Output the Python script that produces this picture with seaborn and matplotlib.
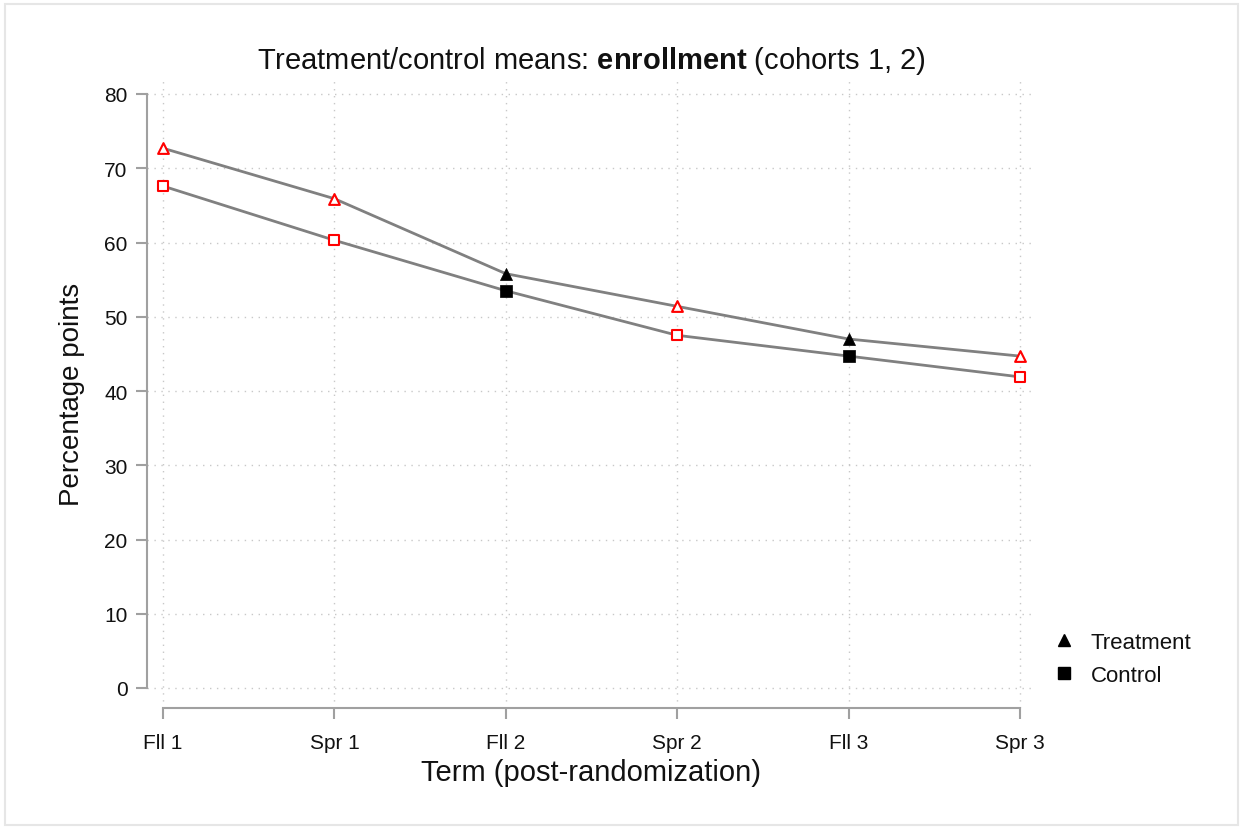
import numpy as np
import pandas as pd
import seaborn as sb
import matplotlib
import matplotlib.pyplot as plt
from matplotlib.lines import Line2D
matplotlib.use('Agg')

terms = ["Fll 1", "Spr 1", "Fll 2", "Spr 2", "Fll 3", "Spr 3"]
treatment = [72.7, 65.9, 55.8, 51.4, 47.0, 44.7]
control = [67.6, 60.3, 53.5, 47.5, 44.7, 41.9]
# terms where the difference is flagged (red hollow markers)
flagged = [True, True, False, True, False, True]

sb.set_style("white")
plt.rcParams['font.family'] = ['Liberation Sans', 'DejaVu Sans']
plt.rcParams['mathtext.fontset'] = 'custom'
plt.rcParams['mathtext.rm'] = 'Liberation Sans'
plt.rcParams['mathtext.bf'] = 'Liberation Sans:bold'
plt.rcParams['text.color'] = '#111111'
plt.rcParams['axes.labelcolor'] = '#111111'
plt.rcParams['xtick.labelcolor'] = '#111111'
plt.rcParams['ytick.labelcolor'] = '#111111'

df = pd.DataFrame({
    "pos": list(range(len(terms))) * 2,
    "value": treatment + control,
    "group": ["Treatment"] * len(terms) + ["Control"] * len(terms),
    "flag": flagged * 2,
})

fig = plt.figure(figsize=(12.43, 8.29), dpi=100)
ax = fig.add_axes([147 / 1243, 1 - 709 / 829, (1035 - 147) / 1243, (709 - 80) / 829])

sb.lineplot(data=df, x="pos", y="value", units="group", estimator=None,
            color="#808080", linewidth=2, ax=ax, legend=False)

shapes = {"Treatment": "^", "Control": "s"}
for grp, mk in shapes.items():
    sub = df[(df.group == grp) & df.flag]
    sb.scatterplot(data=sub, x="pos", y="value", marker=mk, s=60,
                   facecolor="white", edgecolor="red", linewidth=1.5,
                   ax=ax, legend=False, zorder=3)
    sub = df[(df.group == grp) & ~df.flag]
    sb.scatterplot(data=sub, x="pos", y="value", marker=mk, s=75,
                   color="black", edgecolor="black", linewidth=0.5,
                   ax=ax, legend=False, zorder=3)

ax.set_xlim(-16 / 171.4, 5 + 15 / 171.4)
ax.set_ylim(-20 / 7.425, 80 + 15 / 7.425)
ax.set_xticks(range(len(terms)))
ax.set_xticklabels(terms)
ax.set_yticks(range(0, 81, 10))

for s in ["top", "right"]:
    ax.spines[s].set_visible(False)
ax.spines["left"].set_bounds(0, 80)
ax.spines["bottom"].set_bounds(0, 5)
for s in ["left", "bottom"]:
    ax.spines[s].set_color("#a0a0a0")
    ax.spines[s].set_linewidth(1.5)

ax.grid(True, linestyle=(0, (1, 4)), color="#c8c8c8", linewidth=1)
ax.tick_params(axis="both", length=8, width=1.5, color="#a0a0a0",
               labelsize=15, left=True, bottom=True, pad=6)
ax.tick_params(axis="x", pad=10)

ax.set_xlabel("Term (post-randomization)", fontsize=21, labelpad=4)
ax.set_ylabel("Percentage points", fontsize=20, labelpad=14)
ax.set_title(r"Treatment/control means: $\bf{enrollment}$ (cohorts 1, 2)",
             fontsize=21, pad=8)

handles = [Line2D([], [], marker="^", color="black", linestyle="none", markersize=9),
           Line2D([], [], marker="s", color="black", linestyle="none", markersize=8)]
ax.legend(handles, ["Treatment", "Control"], frameon=False, fontsize=16,
          loc="center left", bbox_to_anchor=(0.985, 0.078), handletextpad=0.2,
          labelspacing=0.55)

fig.patches.append(plt.Rectangle((0.004, 0.004), 0.992, 0.99, transform=fig.transFigure,
                                 fill=False, edgecolor="#e6e6e6", linewidth=1.5))

fig.savefig("out.png", dpi=100)
